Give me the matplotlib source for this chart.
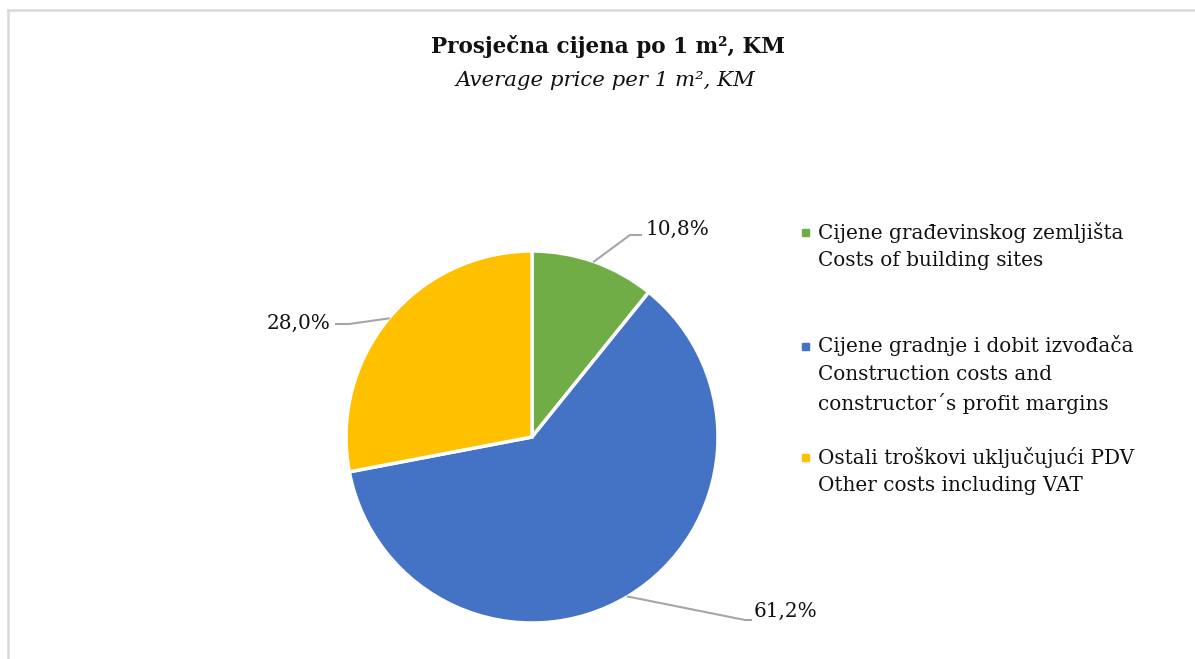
import numpy as np
import matplotlib
matplotlib.use("Agg")
import matplotlib.pyplot as plt
from matplotlib.lines import Line2D
from matplotlib.patches import Rectangle

# ---- data ----
categories = [
    "Cijene građevinskog zemljišta\nCosts of building sites",
    "Cijene gradnje i dobit izvođača\nConstruction costs and\nconstructor´s profit margins",
    "Ostali troškovi uključujući PDV\nOther costs including VAT",
]
values = [10.8, 61.2, 28.0]
colors = ["#70AD47", "#4472C4", "#FFC000"]
title = "Prosječna cijena po 1 m², KM"
subtitle = "Average price per 1 m², KM"

W, H = 1195, 659
fig = plt.figure(figsize=(W / 100, H / 100), dpi=100)
FONT = "DejaVu Serif"
FS = 14.4


def px(x, y):
    return (x / W, 1 - y / H)


# frame (top and left edges visible)
fig.add_artist(Line2D([8 / W, 8 / W], [0, 1 - 9.5 / H], transform=fig.transFigure,
                      color="#D9D9D9", lw=1.8))
fig.add_artist(Line2D([8 / W, 1], [1 - 9.5 / H, 1 - 9.5 / H], transform=fig.transFigure,
                      color="#D9D9D9", lw=1.8))

# pie axes: center (532,437), radius 186 px
cx, cy, R = 532, 437, 186
ax = fig.add_axes([(cx - R) / W, (H - cy - R) / H, 2 * R / W, 2 * R / H])
wedges, _ = ax.pie(values, colors=colors, startangle=90, counterclock=False,
                   wedgeprops=dict(edgecolor="white", linewidth=2.5))
ax.set_xlim(-1, 1)
ax.set_ylim(-1, 1)
ax.set_aspect("equal")
ax.axis("off")

# labels with leader lines (layout positions in pixels)
label_layout = [
    # elbow, end of horizontal, text pos, ha
    ((630, 235), (641, 235), (645, 229), "left"),
    ((745, 620), (751, 620), (754, 611), "left"),
    ((349, 324), (336, 324), (331, 323), "right"),
]
for w, v, (elb, hend, tpos, ha) in zip(wedges, values, label_layout):
    ang = np.deg2rad((w.theta1 + w.theta2) / 2)
    ex, ey = ax.transData.transform((np.cos(ang), np.sin(ang)))
    e = fig.transFigure.inverted().transform((ex, ey))
    p1 = px(*elb)
    p2 = px(*hend)
    fig.add_artist(Line2D([e[0], p1[0], p2[0]], [e[1], p1[1], p2[1]],
                          transform=fig.transFigure, color="#A6A6A6", lw=1.5))
    fig.text(*px(*tpos), f"{v:.1f}%".replace(".", ","), ha=ha, va="center",
             family=FONT, fontsize=FS, color="#111111")

# title
fig.text(*px(608, 47), title, ha="center", va="center", family=FONT,
         fontweight="bold", fontsize=15.5, color="#111111")
fig.text(*px(606, 80), subtitle, ha="center", va="center", family=FONT,
         style="italic", fontsize=15.3, color="#111111")

# legend
legend_y = [232, 346, 457]
line_h = 28.7
for lab, col, y0 in zip(categories, colors, legend_y):
    fig.add_artist(Rectangle(px(802, y0 + 4), 7 / W, 7 / H, transform=fig.transFigure,
                             color=col))
    for i, line in enumerate(lab.split("\n")):
        fig.text(*px(818, y0 + i * line_h), line, ha="left", va="center",
                 family=FONT, fontsize=FS, color="#111111")

fig.savefig("out.png", dpi=100, facecolor="white")
